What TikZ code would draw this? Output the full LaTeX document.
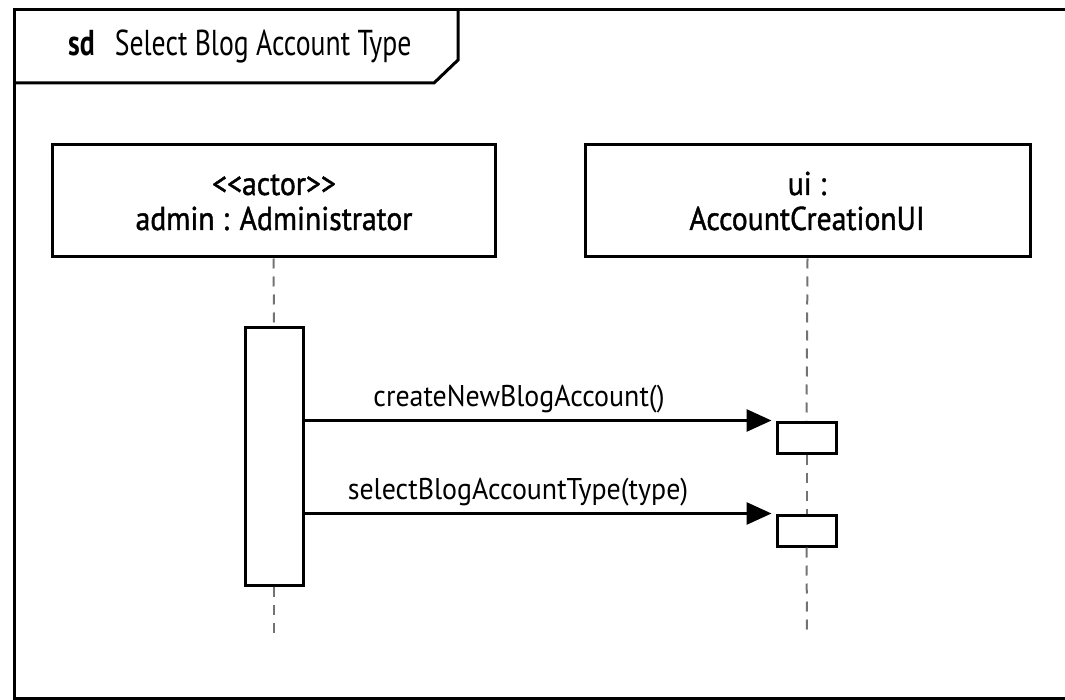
\documentclass[tikz,border=0pt]{standalone}
\usepackage{fontspec}
\setmainfont[FakeStretch=0.8, Ligatures=TeXOff]{PT Sans}
\newfontfamily\titlefont[FakeStretch=0.77, Ligatures=TeXOff]{PT Sans}
\newfontfamily\headfont[FakeStretch=0.9, FakeBold=1.2, Ligatures=TeXOff]{PT Sans}
\newfontfamily\msgfont[FakeStretch=0.93, Ligatures=TeXOff]{PT Sans}
\usetikzlibrary{arrows.meta}
\tikzset{
  frameline/.style={line width=3pt, line join=miter},
  headbox/.style={draw, line width=3pt, fill=white, inner sep=0pt},
  headtext/.style={anchor=base, inner sep=0pt, font=\headfont\fontsize{33}{38}\selectfont},
  actbar/.style={draw, line width=3pt, fill=white, inner sep=0pt},
  lifeline/.style={draw=black!55, line width=2pt, dash pattern=on 10pt off 8pt},
  msg/.style={line width=3pt, -{Triangle[length=25pt,width=22pt]}, shorten >=4pt},
  msglabel/.style={anchor=base, inner sep=0pt, font=\msgfont\fontsize{30}{34}\selectfont},
}
\begin{document}
\begin{tikzpicture}[x=1pt,y=-1pt]
\useasboundingbox (0,0) rectangle (1065,700);
% frame
\draw[frameline] (1080,10) -- (14,10) -- (14,698) -- (1080,698);
\draw[frameline] (14,83) -- (434,83) -- (458,60) -- (458,10);
\node[anchor=base west, inner sep=0pt, font=\titlefont\fontsize{36}{40}\selectfont] (title) at (68,56) {\textbf{sd}\hspace{20pt}Select Blog Account Type};
% heads
\node[headbox, minimum width=443pt, minimum height=112pt] (admin) at (273.5,201) {};
\node[headtext] (admint1) at (274,195) {<<actor>>};
\node[headtext] (admint2) at (274,230) {admin : Administrator};
\node[headbox, minimum width=445pt, minimum height=112pt] (ui) at (807.5,201) {};
\node[headtext] (uit1) at (807,195) {ui :};
\node[headtext] (uit2) at (807,230) {AccountCreationUI};
% activation bars
\node[actbar, minimum width=58pt, minimum height=257pt] (lbar) at (274,456.5) {};
\node[actbar, minimum width=59pt, minimum height=31pt] (m1) at (806.5,437.5) {};
\node[actbar, minimum width=59pt, minimum height=31pt] (m2) at (806.5,530.5) {};
\coordinate (lend) at (274,637);
\coordinate (rend) at (807,637);
% lifelines
\draw[lifeline] (admin.south) -- (lbar.north);
\draw[lifeline] (lbar.south) -- (lend);
\draw[lifeline] (ui.south) -- (m1.north);
\draw[lifeline] (m1.south) -- (m2.north);
\draw[lifeline] (m2.south) -- (rend);
% messages
\draw[msg] (lbar.east |- m1.north west) -- (m1.north west);
\draw[msg] (lbar.east |- m2.north west) -- (m2.north west);
\node[msglabel] (l1) at (519,406) {createNewBlogAccount()};
\node[msglabel] (l2) at (518,499) {selectBlogAccountType(type)};
\end{tikzpicture}
\end{document}
